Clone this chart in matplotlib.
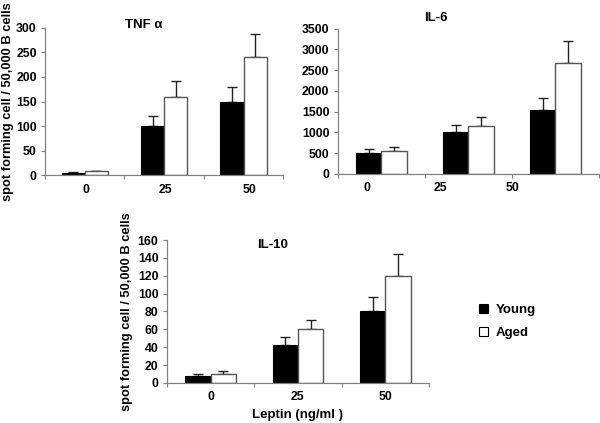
import matplotlib
matplotlib.use("Agg")
import matplotlib.pyplot as plt
from matplotlib.patches import Patch
import numpy as np

plt.rcParams['font.family'] = ['Liberation Sans', 'DejaVu Sans']
plt.rcParams['font.weight'] = 'bold'

# leptin doses
doses = ['0', '25', '50']

# TNF alpha
tnf_young = [5, 100, 150]
tnf_young_err = [1, 20, 30]
tnf_aged = [8, 160, 240]
tnf_aged_err = [0, 32, 47]

# IL-6
il6_young = [500, 1000, 1530]
il6_young_err = [90, 190, 300]
il6_aged = [540, 1150, 2680]
il6_aged_err = [100, 210, 530]

# IL-10
il10_young = [8, 43, 80]
il10_young_err = [2, 9, 16]
il10_aged = [10, 60, 120]
il10_aged_err = [3, 11, 24]

ylabel = 'spot forming cell / 50,000 B cells'
spine_col = '#808080'
W = 0.29


def panel(ax, young, yerr, aged, aerr, ymax, ystep, title, tpos, label_pos=None):
    x = np.arange(len(doses)) + 0.5
    ax.bar(x - W / 2, young, W, color='black', edgecolor='black', linewidth=0.8, zorder=2)
    ax.bar(x + W / 2, aged, W, color='white', edgecolor='#555555', linewidth=1.0, zorder=2)
    ax.errorbar(x - W / 2, young, yerr=[np.zeros(len(young)), yerr], fmt='none',
                ecolor='#222222', elinewidth=1.0, capsize=3.5, capthick=1.0, zorder=1)
    ax.errorbar(x + W / 2, aged, yerr=[np.zeros(len(aged)), aerr], fmt='none',
                ecolor='#222222', elinewidth=1.0, capsize=3.5, capthick=1.0, zorder=1)
    ax.set_xlim(0, 3)
    ax.set_ylim(0, ymax)
    ax.set_yticks(np.arange(0, ymax + 1, ystep))
    ax.spines['top'].set_visible(False)
    ax.spines['right'].set_visible(False)
    for s in ('left', 'bottom'):
        ax.spines[s].set_color(spine_col)
        ax.spines[s].set_linewidth(0.9)
    # ticks at category boundaries, labels placed separately
    ax.set_xticks([0, 1, 2, 3])
    ax.set_xticklabels([])
    ax.tick_params(axis='x', direction='out', length=3, color=spine_col)
    ax.tick_params(axis='y', direction='out', length=3, color=spine_col, labelsize=8.8, pad=3)
    if label_pos is None:
        label_pos = x
    for p, d in zip(label_pos, doses):
        ax.text(p, -0.1, d, transform=ax.get_xaxis_transform(), ha='center', va='center',
                fontsize=8.8, fontweight='bold')
    ax.text(tpos[0], tpos[1], title, transform=ax.transAxes, ha='center', va='center',
            fontsize=9.5, fontweight='bold')


fig = plt.figure(figsize=(6, 4.23), dpi=100)

ax1 = fig.add_axes([0.075, 0.586, 0.397, 0.348])
panel(ax1, tnf_young, tnf_young_err, tnf_aged, tnf_aged_err, 300, 50, 'TNF α', (0.416, 1.02),
      label_pos=[0.52, 1.52, 2.58])
ax1.set_ylabel(ylabel, fontsize=9.3, fontweight='bold')
ax1.yaxis.set_label_coords(-0.13, 0.5)

ax2 = fig.add_axes([0.563, 0.589, 0.435, 0.343])
panel(ax2, il6_young, il6_young_err, il6_aged, il6_aged_err, 3500, 500, 'IL-6', (0.374, 1.076),
      label_pos=[0.34, 1.18, 2.01])

ax3 = fig.add_axes([0.278, 0.0946, 0.437, 0.338])
panel(ax3, il10_young, il10_young_err, il10_aged, il10_aged_err, 160, 20, 'IL-10', (0.405, 0.965))
ax3.set_ylabel(ylabel, fontsize=9.3, fontweight='bold')
ax3.yaxis.set_label_coords(-0.13, 0.5)
ax3.text(0.5, -0.225, 'Leptin (ng/ml )', transform=ax3.transAxes, ha='center', va='center',
         fontsize=9.5, fontweight='bold')

handles = [Patch(facecolor='black', edgecolor='black', linewidth=0.8),
           Patch(facecolor='white', edgecolor='black', linewidth=0.8)]
fig.legend(handles, ['Young', 'Aged'], loc='upper left', bbox_to_anchor=(0.778, 0.31),
           frameon=False, handlelength=0.7, handleheight=0.7, handletextpad=0.6,
           labelspacing=0.8, prop={'size': 9.5, 'weight': 'bold'})

fig.savefig('out.png', dpi=100)
